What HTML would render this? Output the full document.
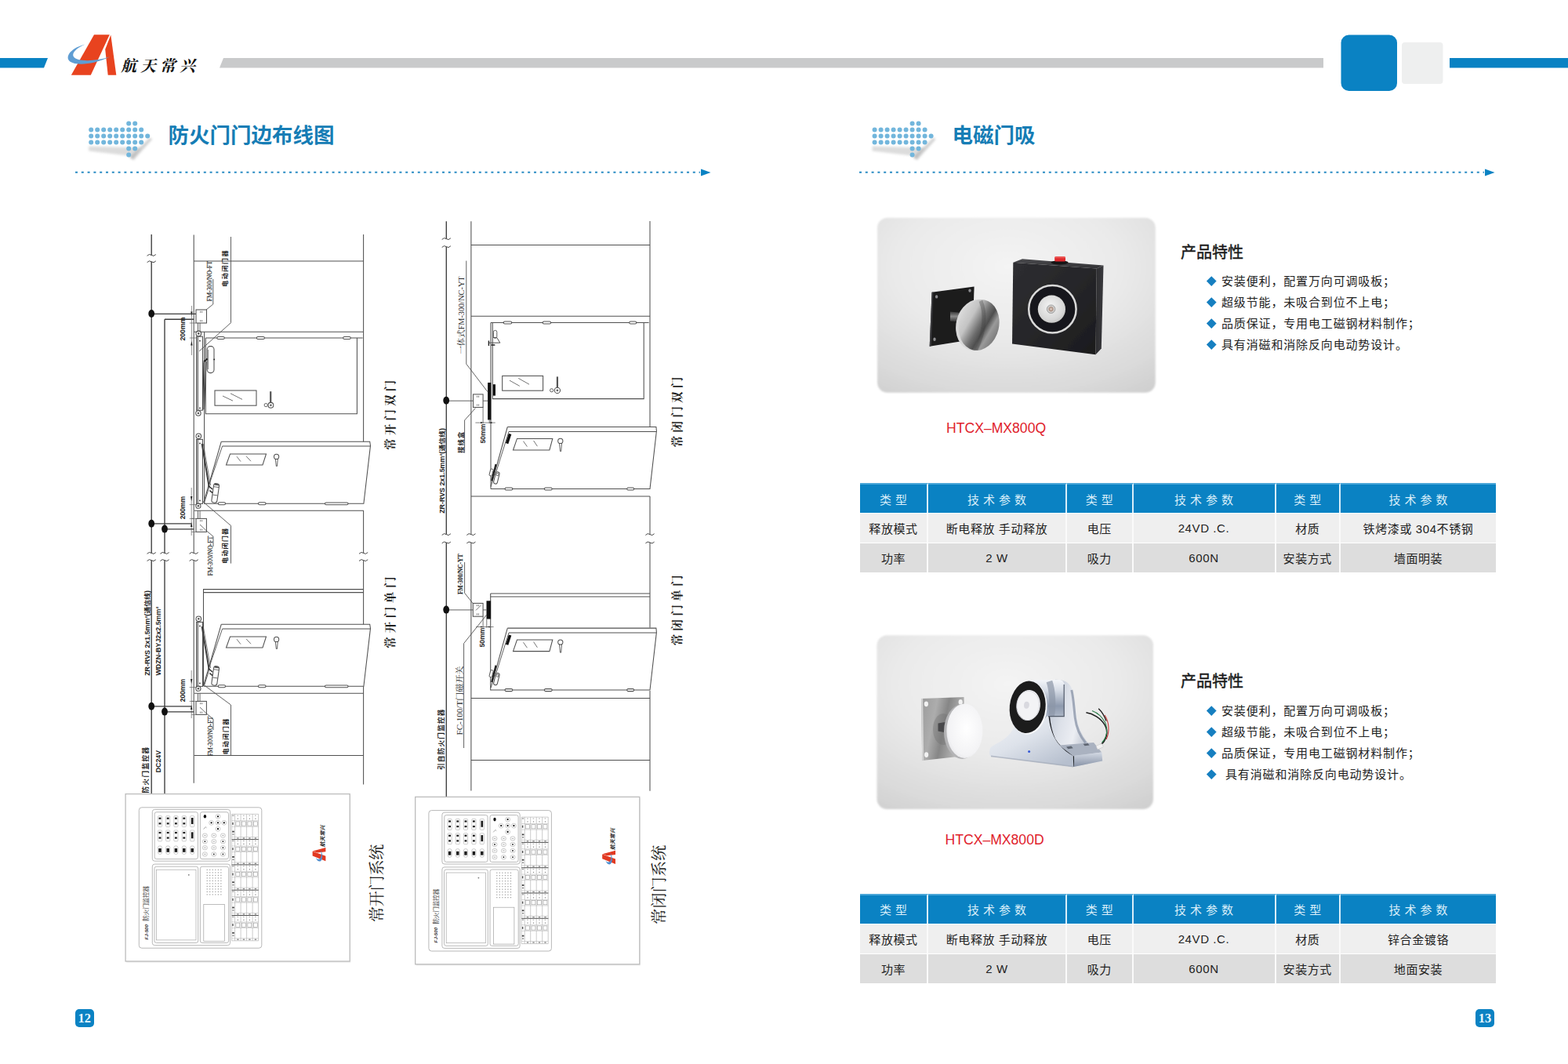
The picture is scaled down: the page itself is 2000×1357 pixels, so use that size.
<!DOCTYPE html>
<html lang="zh">
<head>
<meta charset="utf-8">
<title>航天常兴 - 防火门门边布线图 / 电磁门吸</title>
<style>
html,body{margin:0;padding:0;background:#fff;}
body{width:2000px;height:1357px;position:relative;overflow:hidden;font-family:"Liberation Sans","Noto Sans CJK SC",sans-serif;color:#222;}
.abs{position:absolute;}
#art{position:absolute;left:0;top:0;width:2000px;height:1357px;}
.logo-txt{position:absolute;left:154px;top:70px;font-family:"Liberation Serif","Noto Serif CJK SC",serif;font-style:italic;font-weight:bold;font-size:20px;letter-spacing:5px;color:#111;line-height:28px;white-space:nowrap;}
.h1{position:absolute;top:156px;font-size:26.5px;font-weight:bold;color:#167db5;line-height:34px;white-space:nowrap;letter-spacing:0px;}
.ptitle{position:absolute;font-size:20px;font-weight:normal;-webkit-text-stroke:0.45px #1a1a1a;color:#1a1a1a;line-height:24px;white-space:nowrap;}
.feat{position:absolute;font-size:15px;letter-spacing:0.85px;color:#222;line-height:27px;white-space:nowrap;margin:0;padding:0;list-style:none;}
.feat li{position:relative;height:27px;padding-left:19px;}
.feat li:before{content:"";position:absolute;left:1.5px;top:8.5px;width:8.5px;height:8.5px;background:#167fc0;transform:rotate(45deg);}
.model{position:absolute;font-size:17.6px;color:#e0212b;line-height:20px;white-space:nowrap;}
table.spec{position:absolute;left:1097px;width:811px;border-collapse:separate;border-spacing:0;table-layout:fixed;font-size:15px;letter-spacing:0.6px;color:#222;}
table.spec th{height:38.5px;background:#0a82c3;color:#d9eef9;font-weight:normal;letter-spacing:5px;padding:0 0 0 5px;border-right:2px solid #d9eef9;border-top:2px solid #4aa6d8;box-sizing:border-box;text-align:center;}
table.spec td{height:38px;padding:0;text-align:center;border-right:2px solid #fafafa;border-top:1.5px solid #fff;box-sizing:border-box;}
table.spec tr.r1 td{background:#efefef;}
table.spec tr.r2 td{background:#dddddd;}
table.spec th:last-child,table.spec td:last-child{border-right:none;}
.pn{position:absolute;top:1287px;width:23.6px;height:23px;border-radius:5px;background:#0a82c3;color:#e6f7ff;font-family:"Liberation Serif",serif;font-weight:bold;font-size:16.5px;line-height:23px;text-align:center;}
.vt{position:absolute;white-space:nowrap;transform-origin:0 0;transform:rotate(-90deg);line-height:1;}
</style>
</head>
<body>
<svg id="art" width="2000" height="1357" viewBox="0 0 2000 1357">
<defs>
<radialGradient id="pbg1" cx="0.47" cy="0.28" r="0.9">
<stop offset="0" stop-color="#f4f4f4"/><stop offset="0.45" stop-color="#eaeaea"/><stop offset="0.8" stop-color="#dadada"/><stop offset="1" stop-color="#cdcdcd"/>
</radialGradient>
<filter id="cardsoft" x="-2%" y="-2%" width="104%" height="104%"><feGaussianBlur stdDeviation="0.8"/></filter>
<filter id="blur2" x="-20%" y="-20%" width="140%" height="140%"><feGaussianBlur stdDeviation="1.6"/></filter>
<g id="dotarrow">
<path d="M-3 29 L64 31 L52 46 L47 41 L-3 35 Z" fill="#9a9a9a" opacity="0.34" filter="url(#blur2)"/>
<path d="M75 18 L78 20 L54 47 L50 42 Z" fill="#8a8a8a" opacity="0.38" filter="url(#blur2)"/>
<g fill="#72b6dc">
<circle cx="48" cy="0" r="3"/><circle cx="56" cy="0" r="3"/>
<circle cx="0" cy="8" r="3"/><circle cx="8" cy="8" r="3"/><circle cx="16" cy="8" r="3"/><circle cx="24" cy="8" r="3"/><circle cx="32" cy="8" r="3"/><circle cx="40" cy="8" r="3"/><circle cx="48" cy="8" r="3"/><circle cx="56" cy="8" r="3"/><circle cx="64" cy="8" r="3"/>
<circle cx="0" cy="16" r="3"/><circle cx="8" cy="16" r="3"/><circle cx="16" cy="16" r="3"/><circle cx="24" cy="16" r="3"/><circle cx="32" cy="16" r="3"/><circle cx="40" cy="16" r="3"/><circle cx="48" cy="16" r="3"/><circle cx="56" cy="16" r="3"/><circle cx="64" cy="16" r="3"/><circle cx="72" cy="16" r="3"/>
<circle cx="0" cy="24" r="3"/><circle cx="8" cy="24" r="3"/><circle cx="16" cy="24" r="3"/><circle cx="24" cy="24" r="3"/><circle cx="32" cy="24" r="3"/><circle cx="40" cy="24" r="3"/><circle cx="48" cy="24" r="3"/><circle cx="56" cy="24" r="3"/><circle cx="64" cy="24" r="3"/>
<circle cx="48" cy="32" r="3"/><circle cx="56" cy="32" r="3"/>
<circle cx="48" cy="40" r="3"/>
</g>
</g>
</defs>

<!-- header bars -->
<polygon points="0,74 61,74 56,86.5 0,86.5" fill="#0a82c3"/>
<polygon points="285,74 1688,74 1688,86.5 280,86.5" fill="#c9cacb"/>
<rect x="1849" y="74" width="151" height="12.5" fill="#0a82c3"/>
<rect x="1710.5" y="44.5" width="71.5" height="71.5" rx="10" ry="10" fill="#0a82c3"/>
<rect x="1788" y="54" width="52.5" height="53" rx="4" ry="4" fill="#eeefef"/>

<!-- logo -->
<g id="logo">
<polygon points="120,44.2 139.8,44.2 115.8,95.8 90.8,95.8" fill="#e8431f"/>
<polygon points="141.3,44.4 148.3,95.8 137.7,95.8 134.2,63" fill="#e8431f"/>
<path d="M108.5 56.5 C92 61 84 70 87.5 76.5 C92 84 116 84 140.5 72.3 C120 79 98 78.5 94 72.5 C91 68 97 61.5 108.5 56.5 Z" fill="#5f9dd3"/>
</g>

<!-- section heading icons + dotted rules -->
<use href="#dotarrow" x="116.2" y="157.6"/>
<use href="#dotarrow" x="1115.6" y="157.6"/>
<line x1="96" y1="219.8" x2="893" y2="219.8" stroke="#2a8cc4" stroke-width="2" stroke-dasharray="3 4.8"/>
<polygon points="894,215.6 906.5,220 894,224.4" fill="#0a82c3"/>
<line x1="1096" y1="219.8" x2="1893" y2="219.8" stroke="#2a8cc4" stroke-width="2" stroke-dasharray="3 4.8"/>
<polygon points="1894,215.6 1906.5,220 1894,224.4" fill="#0a82c3"/>

<!-- product photo cards -->
<rect x="1119" y="277.7" width="354.8" height="223" rx="13" ry="13" fill="url(#pbg1)" filter="url(#cardsoft)"/>
<rect x="1118.5" y="810.3" width="352.5" height="221.8" rx="13" ry="13" fill="url(#pbg1)" filter="url(#cardsoft)"/>

<g id="product1">
<defs>
<linearGradient id="p1front" x1="0" y1="0" x2="1" y2="1"><stop offset="0" stop-color="#2e2e31"/><stop offset="0.5" stop-color="#262629"/><stop offset="1" stop-color="#1b1b1d"/></linearGradient>
<linearGradient id="p1top" x1="0" y1="0" x2="0" y2="1"><stop offset="0" stop-color="#4a4a4e"/><stop offset="1" stop-color="#323235"/></linearGradient>
<linearGradient id="p1side" x1="0" y1="0" x2="1" y2="0"><stop offset="0" stop-color="#2c2c2f"/><stop offset="1" stop-color="#3a3a3e"/></linearGradient>
<radialGradient id="p1silver" cx="0.45" cy="0.4" r="0.7"><stop offset="0" stop-color="#f4f4f4"/><stop offset="0.7" stop-color="#d6d6d6"/><stop offset="1" stop-color="#b9b9b9"/></radialGradient>
<radialGradient id="p1pin" cx="0.5" cy="0.5" r="0.5"><stop offset="0" stop-color="#e9d9d0"/><stop offset="0.45" stop-color="#a98f82"/><stop offset="0.75" stop-color="#d8d8d8"/><stop offset="1" stop-color="#a8a8a8"/></radialGradient>
<linearGradient id="p1disc" x1="0" y1="0.2" x2="1" y2="0.6"><stop offset="0" stop-color="#dcdcdc"/><stop offset="0.3" stop-color="#c4c4c4"/><stop offset="0.55" stop-color="#6e6e6e"/><stop offset="0.68" stop-color="#4e4e4e"/><stop offset="0.82" stop-color="#9a9a9a"/><stop offset="1" stop-color="#7c7c7c"/></linearGradient>
<linearGradient id="p1stem" x1="0" y1="0" x2="0" y2="1"><stop offset="0" stop-color="#3a3a3a"/><stop offset="0.45" stop-color="#8a8a8a"/><stop offset="1" stop-color="#2a2a2a"/></linearGradient>
<filter id="p1soft" x="-10%" y="-10%" width="120%" height="120%"><feGaussianBlur stdDeviation="0.7"/></filter>
<filter id="p1shadow" x="-20%" y="-20%" width="140%" height="160%"><feGaussianBlur stdDeviation="3"/></filter>
</defs>
<!-- soft ground shadows -->
<g filter="url(#p1soft)">
<!-- wall plate -->
<polygon points="1188.6,372.7 1242.6,365.4 1240.3,433 1185.7,441.8" fill="#1b1b1d"/>
<polygon points="1188.6,372.7 1190.4,372.5 1187.6,441.5 1185.7,441.8" fill="#3c3c3f"/>
<ellipse cx="1194.6" cy="378.4" rx="1.7" ry="2.2" fill="#8d8d90"/>
<ellipse cx="1237" cy="370.6" rx="1.7" ry="2.2" fill="#8d8d90"/>
<ellipse cx="1192" cy="432.8" rx="1.7" ry="2.2" fill="#8d8d90"/>
<!-- stem -->
<polygon points="1212,397.6 1232,399.6 1232,411 1212,409.4" fill="url(#p1stem)"/>
<!-- armature disc (edge + face) -->
<g transform="rotate(13 1248.4 414.4)">
<ellipse cx="1245.6" cy="415.2" rx="26" ry="33" fill="#d9d9d9"/>
<ellipse cx="1248.6" cy="414.4" rx="25.6" ry="32.8" fill="url(#p1disc)"/>
<path d="M1244 384 C1254 398 1258 420 1252 446" stroke="#3e3e3e" stroke-width="5" fill="none" opacity="0.35"/>
</g>
<!-- magnet housing -->
<polygon points="1292.3,334.8 1304,330.2 1407.5,338.5 1398.8,342.5" fill="url(#p1top)"/>
<polygon points="1398.8,342.5 1407.5,338.5 1404.8,444.6 1397.5,452.3" fill="url(#p1side)"/>
<polygon points="1292.3,334.8 1398.8,342.5 1397.5,452.3 1291,438.6" fill="url(#p1front)"/>
<!-- release button -->
<ellipse cx="1351.6" cy="334.8" rx="11" ry="2.6" fill="#151515"/>
<rect x="1345.2" y="327.2" width="13.8" height="6.4" rx="1.6" fill="#df2a2e"/>
<rect x="1345.2" y="327.2" width="13.8" height="2" rx="1" fill="#f0605c" opacity="0.8"/>
<!-- pole face -->
<circle cx="1342.4" cy="394.2" r="30.4" fill="#18181a"/>
<circle cx="1342.4" cy="394.2" r="30.2" fill="none" stroke="#d9d9d9" stroke-width="2.5"/>
<circle cx="1341.4" cy="394.2" r="17.6" fill="url(#p1silver)"/>
<circle cx="1340.6" cy="394.2" r="5.3" fill="url(#p1pin)"/>
<circle cx="1340.6" cy="394.2" r="5.3" fill="none" stroke="#9a9a9a" stroke-width="0.8"/>
</g>
</g>

<g id="product2">
<defs>
<linearGradient id="p2plate" x1="0" y1="0" x2="1" y2="0.3"><stop offset="0" stop-color="#9a9a9a"/><stop offset="0.35" stop-color="#adadad"/><stop offset="0.6" stop-color="#868686"/><stop offset="1" stop-color="#bdbdbd"/></linearGradient>
<radialGradient id="p2disc" cx="0.55" cy="0.45" r="0.7"><stop offset="0" stop-color="#ffffff"/><stop offset="0.7" stop-color="#f3f3f5"/><stop offset="1" stop-color="#dcdce0"/></radialGradient>
<linearGradient id="p2cyl" x1="0" y1="0" x2="0" y2="1"><stop offset="0" stop-color="#f4f6fa"/><stop offset="0.2" stop-color="#d6dce6"/><stop offset="0.5" stop-color="#8e9aae"/><stop offset="0.78" stop-color="#b8c1cf"/><stop offset="1" stop-color="#dde2ea"/></linearGradient>
<linearGradient id="p2face" x1="0" y1="0" x2="0.8" y2="1"><stop offset="0" stop-color="#f2f4f8"/><stop offset="0.5" stop-color="#dde2ea"/><stop offset="1" stop-color="#b6bfce"/></linearGradient>
<linearGradient id="p2arch" x1="0" y1="0.2" x2="1" y2="0.6"><stop offset="0" stop-color="#bcc4d1"/><stop offset="0.3" stop-color="#dde1e9"/><stop offset="0.55" stop-color="#eceef3"/><stop offset="0.8" stop-color="#b9c0cd"/><stop offset="1" stop-color="#dfe3ea"/></linearGradient>
<linearGradient id="p2base" x1="0" y1="0" x2="0" y2="1"><stop offset="0" stop-color="#d4dae4"/><stop offset="1" stop-color="#8792a6"/></linearGradient>
<filter id="p2soft" x="-10%" y="-10%" width="120%" height="120%"><feGaussianBlur stdDeviation="0.7"/></filter>
<filter id="p2shadow" x="-20%" y="-40%" width="140%" height="200%"><feGaussianBlur stdDeviation="3"/></filter>
</defs>
<g filter="url(#p2soft)">
<!-- wall plate -->
<polygon points="1175.1,891.1 1229.5,889 1231,964 1176.2,970" fill="url(#p2plate)"/>
<polygon points="1175.1,891.1 1177.2,891 1178.2,969.8 1176.2,970" fill="#d4d4d4"/>
<ellipse cx="1181.4" cy="897.8" rx="2.6" ry="3.4" fill="#f2f2f2"/>
<ellipse cx="1225.2" cy="895.4" rx="2.6" ry="3.4" fill="#f2f2f2"/>
<ellipse cx="1181.6" cy="962.6" rx="2.6" ry="3.4" fill="#f2f2f2"/>
<ellipse cx="1203" cy="930" rx="13" ry="20" fill="#6e6e6e" opacity="0.35"/>
<polygon points="1196.5,922.6 1208,920.6 1208,934.8 1196.5,932.6" fill="#4a4a4c"/>
<!-- armature disc -->
<ellipse cx="1227.4" cy="933" rx="23.4" ry="35" fill="#b4b4b6"/>
<ellipse cx="1230.4" cy="932.2" rx="23" ry="34.8" fill="url(#p2disc)"/>
<!-- holder: rear arch -->
<path d="M1346 866.8 C1356 866.6 1362.6 869.6 1366 876 C1370.6 885 1371.6 900 1373.4 914.6 C1375 926 1379 936 1386 945.4 C1392 952.6 1399 957 1405.4 959.6 L1406.2 970.4 L1369.4 978 L1368.6 964 C1356 957 1346.4 946.6 1342 934 C1339.6 927 1338 920 1337.4 912 Z" fill="url(#p2arch)"/>
<path d="M1366.8 880 C1369.6 892 1369.8 904 1371.4 916 C1373 928 1377.4 938.6 1384.6 947.4" fill="none" stroke="#8d97aa" stroke-width="3" opacity="0.8"/>
<path d="M1337.6 914 C1338.4 924 1340.4 933 1344.6 942.6 C1349 950.6 1356 957 1368.4 963.6" fill="none" stroke="#17191d" stroke-width="3"/>
<!-- holder: base right block -->
<path d="M1351 950.6 L1395 947 L1405.2 959.6 L1368.8 964.2 Z" fill="#aab2c0"/>
<path d="M1360 952.6 l6.4 -1 l2.4 2.6 l-6.4 1z M1381.6 948.8 l6 -0.8 l2 2.4 l-6 0.8z" fill="#5f6672"/>
<polygon points="1368.9,964 1405.2,959.5 1406.2,970.4 1369.4,978" fill="url(#p2base)"/>
<path d="M1369.2 964.2 V977.8" stroke="#1f2126" stroke-width="1.6"/>
<!-- holder: front face -->
<path d="M1294.8 924.6 C1291 934 1284 942 1273 947.4 C1267 950.4 1263 952.6 1262.4 956 L1262 960.4 C1262.2 963 1263 964.4 1265 964.8 L1369.4 978 L1368.6 964 C1356 957 1346.4 946.6 1342 934 C1339.6 927 1338 920 1337.4 912 L1322 932 Z" fill="url(#p2face)"/>
<path d="M1264 964.4 L1369.2 977.6" fill="none" stroke="#a8afbd" stroke-width="1.6" opacity="0.8"/>
<circle cx="1312.6" cy="958.6" r="1.5" fill="#3558d6"/>
<!-- holder: magnet cylinder -->
<path d="M1313 867.4 L1351 867 C1355 867 1357.2 869.6 1357.2 873 V913.4 H1335.4 L1320 934 Z" fill="url(#p2cyl)"/>
<path d="M1338.4 869 C1342.4 880 1343.4 900 1341 913" fill="none" stroke="#8c95a6" stroke-width="8" opacity="0.7"/>
<path d="M1357.2 873 V913.6 H1337" fill="none" stroke="#535b6b" stroke-width="1.2"/>
<!-- pole face -->
<g transform="rotate(6 1310.7 901.8)">
<ellipse cx="1312.2" cy="902.8" rx="23.4" ry="33.8" fill="#f7f8fa"/>
<ellipse cx="1310.7" cy="901.8" rx="22.9" ry="33.3" fill="#1d1d1f"/>
<ellipse cx="1311.6" cy="899.2" rx="15" ry="19.4" fill="#f3f3f5"/>
<ellipse cx="1311" cy="899.8" rx="14.4" ry="18.8" fill="none" stroke="#d3d5da" stroke-width="0.9"/>
<ellipse cx="1309.2" cy="899.4" rx="3.4" ry="4.5" fill="#d9d9df"/>
</g>
<!-- pigtail leads -->
<path d="M1385.4 908.8 C1394 910 1404 916 1409.2 924.6 C1414 933 1412 944 1403.4 950.4" fill="none" stroke="#1d1d1d" stroke-width="1.5"/>
<path d="M1393 906.4 C1400 909 1406 914.6 1409.6 921.6 C1413.2 929.6 1412.4 940 1405.6 947" fill="none" stroke="#2e7d4a" stroke-width="1.1"/>
<path d="M1401.2 903.8 C1405.6 908 1409 913.6 1411 919.6" fill="none" stroke="#1d1d1d" stroke-width="1.3"/>
<path d="M1409 912 C1414.4 920 1416 933 1411 943" fill="none" stroke="#c43a3a" stroke-width="1.1"/>
<rect x="1398.6" y="949.6" width="8.2" height="5" rx="1" fill="#f1f1f1" stroke="#c4c4c4" stroke-width="0.5" transform="rotate(-24 1402.6 952)"/>
</g>
</g>

<g id="diagram" fill="none" stroke="#505050" stroke-width="1.05" stroke-linecap="butt" stroke-linejoin="miter">
<defs>
<path id="tl" d="M-5.6 0.9 Q-2.8 -2.4 0 0 Q2.8 2.4 5.6 -0.9" fill="none" stroke="#474747" stroke-width="1"/>
<!-- open door leaf + closer for normally-open system; local origin = page coords of double-door lower leaf -->
<g id="odoorL">
  <!-- leaf outline -->
  <path d="M282.3 563.2 H471.7 L472.5 568.4 L463.9 642.2 H260"/>
  <path d="M283.6 569 H472.3"/>
  <path d="M282.3 563.2 L259.9 640.5"/>
  <path d="M283.6 569 L266.8 618" stroke-width="0.9"/>
  <!-- window -->
  <path d="M293.5 579 H339.5 L335 593 H288.5 Z"/>
  <path d="M302 582.2 L307 588.6 M314 581.8 L320 588.2" stroke-width="0.8"/>
  <!-- handle -->
  <circle cx="352.6" cy="582.4" r="3.1"/>
  <path d="M351.3 585 L352.3 594.5 H353.5 L354.3 585" stroke-width="0.9"/>
  <!-- hinges -->
  <rect x="278.3" y="640.7" width="9.2" height="3" rx="1.5" fill="#fff"/>
  <rect x="329.5" y="640.7" width="9.5" height="3" rx="1.5" fill="#fff"/>
  <rect x="414.5" y="640.9" width="29.5" height="2.8" rx="1.4" fill="#fff"/>
  <!-- slide track -->
  <rect x="250.6" y="560.4" width="7.9" height="82" fill="#fff"/>
  <path d="M252.3 561 V642" stroke="#777" stroke-width="1.6"/>
  <circle cx="253.3" cy="556.2" r="3.3" fill="#fff"/><circle cx="253.3" cy="556.2" r="1.3" fill="#555" stroke="none"/>
  <circle cx="252.9" cy="645.2" r="3.1" fill="#fff"/><circle cx="252.9" cy="645.2" r="1.3" fill="#555" stroke="none"/>
  <circle cx="254.9" cy="565.4" r="0.9" fill="#333" stroke="none"/>
  <circle cx="254.9" cy="638.4" r="0.9" fill="#333" stroke="none"/>
  <!-- folding arm -->
  <path d="M257.6 566 L266.8 621.5" stroke-width="1.9" stroke="#3a3a3a"/>
  <path d="M259.2 566 L268.6 619" stroke-width="0.8"/>
  <path d="M266.8 621.5 L260.6 641" stroke-width="0.9"/>
  <!-- closer body -->
  <g transform="rotate(8 274.6 629)">
    <rect x="271.2" y="616.6" width="7" height="24.6" rx="3" fill="#fff"/>
    <path d="M271.4 621 H278 M271.4 631.5 H278" stroke-width="0.8"/>
    <rect x="271.9" y="616.8" width="5.6" height="2.2" rx="1" fill="#555" stroke="none"/>
  </g>
  <path d="M266.4 620 L271 624 M267.4 625.5 L271 628.6" stroke-width="1.6" stroke="#333"/>
  <!-- junction box + feed -->
  <rect x="250" y="661.4" width="13.4" height="17" fill="#fff"/>
  <path d="M255 669 L263.4 677" stroke-width="0.8"/>
  <path d="M255.6 663.2 v2 M257.6 663.2 v2 M255.6 674.6 v2 M257.6 674.6 v2" stroke-width="0.8"/>
  <path d="M252.5 651.4 V661.4 M255 651.4 V661.4" stroke-width="0.9"/>
  <path d="M244.2 661.4 H250 M244.2 678.4 H250" stroke-width="0.6"/>
  <!-- dimension line 200mm -->
  <path d="M244.2 622 V683" stroke-width="0.7" stroke="#666"/>
  <path d="M243 633 h2.4 l-1.2 6z M243 672 h2.4 l-1.2 -6z" fill="#222" stroke="none"/>
  <path d="M241.6 643.6 H250.6 M241.6 661.4 H247" stroke-width="0.6"/>
  <!-- wires to bus -->
  <path d="M193.2 667.8 H244.2 M210 674.8 H247.2" stroke="#3c3c3c" stroke-width="1.25"/>
  <ellipse cx="193.2" cy="667.8" rx="3.9" ry="5" fill="#111" stroke="none"/>
  <ellipse cx="210" cy="674.6" rx="3.9" ry="5" fill="#111" stroke="none"/>
</g>
<!-- open door leaf for normally-closed system -->
<g id="odoorR">
  <path d="M647.3 544.5 H836.9 L837.4 549.8 L829 623.4 H625.9"/>
  <path d="M649 550.4 H837.2"/>
  <path d="M647.3 544.5 L626.1 620.6"/>
  <path d="M649 550.4 L631.6 606" stroke-width="0.9"/>
  <path d="M659.5 559.4 H704.8 L700.9 574 H654.5 Z"/>
  <path d="M667.5 562.6 L672.4 569.6 M680.6 562 L685.4 569.2" stroke-width="0.8"/>
  <circle cx="714.8" cy="562.4" r="3.1"/>
  <path d="M713.5 565 L714.5 575.6 H715.7 L716.5 565" stroke-width="0.9"/>
  <rect x="644" y="622" width="9.8" height="3" rx="1.5" fill="#fff"/>
  <rect x="694.4" y="622" width="9.8" height="3" rx="1.5" fill="#fff"/>
  <rect x="799.7" y="622" width="9" height="3" rx="1.5" fill="#fff"/>
  <!-- magnet keeper plate on leaf -->
  <path d="M650.6 553.4 L646.6 565.6" stroke="#111" stroke-width="3.6"/>
  <!-- closer on leaf -->
  <g transform="rotate(14 631 604)">
    <rect x="632.2" y="601" width="4.8" height="15.5" rx="2.3" fill="#fff"/>
    <rect x="624.6" y="599.2" width="3.6" height="8.8" rx="1" fill="#fff" stroke-width="0.9"/>
    <path d="M629.6 592 V614" stroke="#222" stroke-width="2.2"/>
    <circle cx="634.6" cy="604.2" r="1.6" stroke-width="0.8"/>
  </g>
</g>
</defs>

<!-- ================= normally-open system (left) ================= -->
<!-- bus lines -->
<path d="M193.2 299 V325.4 M193.2 333.8 V705.4 M193.2 714.6 V1012.6" stroke="#3c3c3c" stroke-width="1.35"/>
<path d="M210 407.2 V705.4 M210 714.6 V1012.6 M210 407.2 H247.2" stroke="#3c3c3c" stroke-width="1.35"/>
<path d="M247.2 299.5 V705.4 M247.2 714.6 V998.8"/>
<path d="M463.6 299 V563.2 M463.6 651.2 V705.4 M463.6 714.6 V796.2 M463.6 875.2 V1000.6"/>
<use href="#tl" x="193.2" y="325.4"/><use href="#tl" x="193.2" y="333.8"/>
<use href="#tl" x="193.2" y="705.4"/><use href="#tl" x="193.2" y="714.6"/>
<use href="#tl" x="210" y="705.4"/><use href="#tl" x="210" y="714.6"/>
<use href="#tl" x="247.2" y="705.4"/><use href="#tl" x="247.2" y="714.6"/>
<use href="#tl" x="463.6" y="705.4"/><use href="#tl" x="463.6" y="714.6"/>
<!-- structure horizontals -->
<path d="M247.2 333 H463.6 M247.2 423.2 H463.6 M248 651.2 H463.9 M259 751.6 H463.6 M259 755.6 H463.6 M248 884.2 H463.6 M247.7 963.4 H463.6"/>
<path d="M260.6 423.2 V642.2 M259.5 751.6 V875.2"/>
<!-- label leader top -->
<!-- closed leaf (top of double door) -->
<path d="M262.3 431 H462.6 M455.4 431 V527.8 H262.3 V431"/>
<rect x="276.8" y="429.5" width="9.5" height="3" rx="1.5" fill="#fff"/>
<rect x="327.4" y="429.5" width="10" height="3" rx="1.5" fill="#fff"/>
<rect x="437.7" y="429.5" width="9.5" height="3" rx="1.5" fill="#fff"/>
<rect x="274" y="498" width="53" height="19.2"/>
<path d="M284 505 L297 511.2 M294 501.8 L309 509.4" stroke-width="0.8"/>
<path d="M345.2 499.2 V514" stroke-width="2.2" stroke="#555"/>
<circle cx="345.4" cy="516.8" r="3.4" fill="#fff"/><circle cx="345.4" cy="516.8" r="1.4" fill="#666" stroke="none"/>
<circle cx="339.2" cy="516.6" r="2.1" stroke-width="0.9"/>
<!-- slide track + closer on closed leaf -->
<rect x="250.6" y="429.2" width="7.9" height="94" fill="#fff"/>
<path d="M252.3 430 V523" stroke="#777" stroke-width="1.6"/>
<circle cx="253.3" cy="425.4" r="3.3" fill="#fff"/><circle cx="253.3" cy="425.4" r="1.3" fill="#555" stroke="none"/>
<circle cx="252.9" cy="527" r="3.2" fill="#fff"/><circle cx="252.9" cy="527" r="1.3" fill="#555" stroke="none"/>
<circle cx="254.9" cy="434.7" r="0.9" fill="#333" stroke="none"/><circle cx="254.9" cy="520.4" r="0.9" fill="#333" stroke="none"/>
<rect x="264.2" y="441.6" width="8.8" height="34" rx="4" fill="#fff"/>
<path d="M265.6 446 V471" stroke-width="0.7"/>
<path d="M260 462 L258.8 522.5 M263 461.2 L260.4 522" stroke-width="1.1" stroke="#333"/>
<path d="M259.8 461.6 L264.6 457.4" stroke-width="2" stroke="#222"/>
<circle cx="273.2" cy="458.4" r="0.9" fill="#222" stroke="none"/>
<path d="M294.5 302 V411.6 L254 448" stroke-width="0.9"/>
<path d="M271.8 356 V388 L262.6 395.4" stroke-width="0.9"/>
<!-- junction box top -->
<rect x="250" y="395" width="13.5" height="17" fill="#fff"/>
<path d="M255.6 396.8 v2 M257.6 396.8 v2 M255.6 408.2 v2 M257.6 408.2 v2" stroke-width="0.8"/>
<path d="M252.5 412 V423.2 M255 412 V423.2" stroke-width="0.9"/>
<path d="M244.4 390 V453" stroke-width="0.7" stroke="#666"/>
<path d="M243.2 397.6 h2.4 l-1.2 5.4z M243.2 440.6 h2.4 l-1.2 -5.6z" fill="#222" stroke="none"/>
<path d="M241.8 412 H250 M241.8 431 H250.6" stroke-width="0.6"/>
<path d="M193.2 400.3 H250" stroke="#3c3c3c" stroke-width="1.25"/>
<ellipse cx="193.2" cy="400" rx="3.9" ry="5" fill="#111" stroke="none"/>
<!-- open leaf (bottom of double door) and the single door copy -->
<use href="#odoorL"/>
<use href="#odoorL" transform="translate(0 233)"/>
<!-- leaders for closer labels -->
<path d="M258.4 639.4 L294.5 670.4 V718.6" stroke-width="0.9"/>
<path d="M263.4 677 L272 684.2 V697" stroke-width="0.9"/>
<path d="M258.4 872.4 L294.5 899 V963.4" stroke-width="0.9"/>
<path d="M263.4 910 L272 917.2 V931" stroke-width="0.9"/>

<!-- ================= normally-closed system (right) ================= -->
<path d="M569.3 282.2 V304.4 M569.3 314.8 V681.6 M569.3 692 V1016.4" stroke="#3c3c3c" stroke-width="1.35"/>
<path d="M600.9 282.2 V681.6 M600.9 692 V1008.6"/>
<path d="M829 282 V544.4 M829 632.9 V681.6 M829 692 V800.6 M829 880.9 V1008.8"/>
<use href="#tl" x="569.3" y="304.6"/><use href="#tl" x="569.3" y="314.6"/>
<use href="#tl" x="569.3" y="681.6"/><use href="#tl" x="569.3" y="692"/>
<use href="#tl" x="600.9" y="681.6"/><use href="#tl" x="600.9" y="692"/>
<use href="#tl" x="829" y="681.6"/><use href="#tl" x="829" y="692"/>
<path d="M600.9 312.4 H829 M600.9 403.2 H829 M600.9 632.9 H829 M625.7 757 H829 M625.7 761 H829 M600.9 890.4 H829 M600.9 969.5 H829"/>
<path d="M626 411.4 V623.4 M625.7 757 V880.4"/>
<!-- closed leaf -->
<path d="M626 411.4 H827.6 M821.2 411.4 V508.6 H628.3 V411.4"/>
<rect x="642.3" y="409.9" width="10.4" height="3" rx="1.5" fill="#fff"/>
<rect x="692.2" y="409.9" width="10.4" height="3" rx="1.5" fill="#fff"/>
<rect x="802.7" y="409.9" width="9" height="3" rx="1.5" fill="#fff"/>
<rect x="640.7" y="479.4" width="51.9" height="18.8"/>
<path d="M650 485.2 L662.8 492.4 M661.2 482.4 L675 490.2" stroke-width="0.8"/>
<path d="M710.9 480.4 V495" stroke-width="2.2" stroke="#555"/>
<circle cx="710.9" cy="497.9" r="3.6" fill="#fff"/><circle cx="710.9" cy="497.9" r="1.4" fill="#666" stroke="none"/>
<circle cx="703.6" cy="497.8" r="2.1" stroke-width="0.9"/>
<!-- closer at hinge corner -->
<rect x="629.4" y="421.4" width="4.4" height="10" rx="2" fill="#fff" stroke-width="0.9"/>
<path d="M623.2 437.2 H637.8 L633.6 430.4 H629" stroke-width="1"/>
<path d="M623.4 434.6 v6.4 M626.4 440 h5" stroke-width="1.4" stroke="#222"/>
<!-- magnet + keeper -->
<rect x="622.1" y="488" width="4.2" height="47.5" fill="#111" stroke="none"/>
<rect x="628.8" y="490.2" width="3.2" height="14.4" fill="#111" stroke="none"/>
<!-- junction box -->
<rect x="603.6" y="502.9" width="12.5" height="16.6" fill="#fff"/>
<path d="M608.6 504.8 v2 M610.6 504.8 v2 M608.6 515.6 v2 M610.6 515.6 v2" stroke-width="0.8"/>
<path d="M569.3 511.2 H603.6 M616.1 511.2 H622.1" stroke-width="0.9"/>
<ellipse cx="569.2" cy="510.8" rx="3.9" ry="5" fill="#111" stroke="none"/>
<path d="M594.8 332.6 V464.2 L621.9 499.6" stroke-width="0.9"/>
<path d="M606.4 520.6 L592.6 536 V577.6" stroke-width="0.9"/>
<path d="M616.1 519.5 V540 M624.2 535.5 V540" stroke-width="0.8"/>
<path d="M606.4 539.1 H631.8" stroke-width="0.7"/>
<path d="M613 538 l3 1.1 l-3 1.1z M627.4 538 l-3 1.1 l3 1.1z" fill="#222" stroke="none"/>
<!-- open leaf + single door copy -->
<use href="#odoorR"/>
<use href="#odoorR" transform="translate(0 256.6)"/>
<!-- single door magnet + box -->
<rect x="620.5" y="766.3" width="5.6" height="23.2" fill="#111" stroke="none"/>
<rect x="603.3" y="769.4" width="12.8" height="16.8" fill="#fff"/>
<path d="M607 778.4 L613.4 772" stroke-width="0.8"/>
<path d="M608.4 771.2 v2 M610.4 771.2 v2 M608.4 782.4 v2 M610.4 782.4 v2" stroke-width="0.8"/>
<path d="M569.3 777.9 H603.3 M616.1 777.9 H620.5" stroke-width="0.9"/>
<ellipse cx="569.2" cy="777.6" rx="3.9" ry="5" fill="#111" stroke="none"/>
<path d="M592.6 717 V756.3 L603.2 769.6" stroke-width="0.9"/>
<path d="M620.8 784 L591.6 820.6 V954" stroke-width="0.9"/>
<path d="M616.1 786.2 V800.6 M620.8 789.5 V800.6" stroke-width="0.8"/>
<path d="M607 799.5 H629.6" stroke-width="0.7"/>
<path d="M613 798.4 l3 1.1 l-3 1.1z M624.6 798.4 l-3 1.1 l3 1.1z" fill="#222" stroke="none"/>
</g>

<!-- diagram labels -->
<g id="dlabels" font-family="Liberation Sans, sans-serif" fill="#1c1c1c" stroke="none">
<g font-family="Liberation Serif, serif" font-size="8.6" fill="#2c2c2c" stroke="#2c2c2c" stroke-width="0.2">
<text transform="translate(269.8 384.4) rotate(-90)" textLength="51.4" lengthAdjust="spacingAndGlyphs">FM-300/NO-FT</text>
<text transform="translate(271 734.6) rotate(-90)" textLength="51" lengthAdjust="spacingAndGlyphs">FM-300/NO-FT</text>
<text transform="translate(270.8 964.6) rotate(-90)" textLength="51" lengthAdjust="spacingAndGlyphs">FM-300/NO-FT</text>
<text transform="translate(590.2 758) rotate(-90)" textLength="51.4" lengthAdjust="spacingAndGlyphs" font-weight="bold" fill="#222">FM-300/NC-YT</text>
</g>
<g font-family="Liberation Serif, serif" font-size="10.4" fill="#262626" stroke="#262626" stroke-width="0.2">
</g>
<g font-size="8" font-weight="bold">
</g>
<g font-size="8.6" font-weight="bold">
<text transform="translate(236.4 434.6) rotate(-90)" textLength="30" lengthAdjust="spacingAndGlyphs">200mm</text>
<text transform="translate(236.4 662.2) rotate(-90)" textLength="29.4" lengthAdjust="spacingAndGlyphs">200mm</text>
<text transform="translate(236.4 895.2) rotate(-90)" textLength="29.4" lengthAdjust="spacingAndGlyphs">200mm</text>
<text transform="translate(618.8 565.4) rotate(-90)" textLength="24.8" lengthAdjust="spacingAndGlyphs">50mm</text>
<text transform="translate(617.8 825.4) rotate(-90)" textLength="24.8" lengthAdjust="spacingAndGlyphs">50mm</text>
</g>
<g font-size="8.4" font-weight="bold">
<text transform="translate(204.8 861.6) rotate(-90)" textLength="88" lengthAdjust="spacingAndGlyphs">WDZN-BYJ2x2.5mm²</text>
<text transform="translate(204.6 985.2) rotate(-90)" textLength="28.2" lengthAdjust="spacingAndGlyphs">DC24V</text>
</g>
<g font-family="Liberation Serif, serif" font-size="14" fill="#222" stroke="#222" stroke-width="0.3">
</g>
<g font-family="Liberation Serif, serif" font-size="19.6" fill="#222" stroke="#222" stroke-width="0.25">
</g>
</g>
<defs><g id="cabinet" fill="none" stroke="#9c9c9c" stroke-width="0.7">
<rect x="161.2" y="1014" width="286" height="213.6" fill="#d9d9d9" stroke="none" opacity="0.55"/>
<rect x="160.1" y="1012.6" width="286.1" height="213.4" fill="#fff" stroke="#bcbcbc" stroke-width="1.3"/>
<rect x="177.3" y="1029.8" width="156.5" height="179.4" rx="3.5" stroke="#b0b0b0" stroke-width="0.9"/>
<rect x="194.3" y="1032.4" width="99.3" height="65.8" rx="3"/>
<rect x="197.2" y="1035.7" width="55.2" height="59.9" rx="2.5"/>
<rect x="255.4" y="1035.7" width="36.1" height="59.9" rx="2.5"/>
<rect x="201.4" y="1040.6" width="5.2" height="14" rx="1.2" stroke="#aaa" stroke-width="0.6"/>
<rect x="202.6" y="1042.6" width="2.8" height="2.2" fill="#1a1a1a" stroke="none"/>
<rect x="202.6" y="1049.2" width="2.8" height="2.2" fill="#1a1a1a" stroke="none"/>
<rect x="201.4" y="1058.9" width="5.2" height="14" rx="1.2" stroke="#aaa" stroke-width="0.6"/>
<rect x="202.6" y="1060.9" width="2.8" height="2.2" fill="#1a1a1a" stroke="none"/>
<rect x="202.6" y="1067.5" width="2.8" height="2.2" fill="#1a1a1a" stroke="none"/>
<rect x="201.4" y="1078.8" width="5.2" height="10.6" rx="2.4" stroke="#aaa" stroke-width="0.6"/>
<rect x="202.3" y="1082.0" width="3.4" height="4.8" fill="#1a1a1a" stroke="none"/>
<rect x="211.6" y="1040.6" width="5.2" height="14" rx="1.2" stroke="#aaa" stroke-width="0.6"/>
<rect x="212.8" y="1042.6" width="2.8" height="2.2" fill="#1a1a1a" stroke="none"/>
<rect x="212.8" y="1049.2" width="2.8" height="2.2" fill="#1a1a1a" stroke="none"/>
<rect x="211.6" y="1058.9" width="5.2" height="14" rx="1.2" stroke="#aaa" stroke-width="0.6"/>
<rect x="212.8" y="1060.9" width="2.8" height="2.2" fill="#1a1a1a" stroke="none"/>
<rect x="212.8" y="1067.5" width="2.8" height="2.2" fill="#1a1a1a" stroke="none"/>
<rect x="211.6" y="1078.8" width="5.2" height="10.6" rx="2.4" stroke="#aaa" stroke-width="0.6"/>
<rect x="212.5" y="1082.0" width="3.4" height="4.8" fill="#1a1a1a" stroke="none"/>
<rect x="221.8" y="1040.6" width="5.2" height="14" rx="1.2" stroke="#aaa" stroke-width="0.6"/>
<rect x="223.0" y="1042.6" width="2.8" height="2.2" fill="#1a1a1a" stroke="none"/>
<rect x="223.0" y="1049.2" width="2.8" height="2.2" fill="#1a1a1a" stroke="none"/>
<rect x="221.8" y="1058.9" width="5.2" height="14" rx="1.2" stroke="#aaa" stroke-width="0.6"/>
<rect x="223.0" y="1060.9" width="2.8" height="2.2" fill="#1a1a1a" stroke="none"/>
<rect x="223.0" y="1067.5" width="2.8" height="2.2" fill="#1a1a1a" stroke="none"/>
<rect x="221.8" y="1078.8" width="5.2" height="10.6" rx="2.4" stroke="#aaa" stroke-width="0.6"/>
<rect x="222.7" y="1082.0" width="3.4" height="4.8" fill="#1a1a1a" stroke="none"/>
<rect x="232.2" y="1040.6" width="5.2" height="14" rx="1.2" stroke="#aaa" stroke-width="0.6"/>
<rect x="233.4" y="1042.6" width="2.8" height="2.2" fill="#1a1a1a" stroke="none"/>
<rect x="233.4" y="1049.2" width="2.8" height="2.2" fill="#1a1a1a" stroke="none"/>
<rect x="232.2" y="1058.9" width="5.2" height="14" rx="1.2" stroke="#aaa" stroke-width="0.6"/>
<rect x="233.4" y="1060.9" width="2.8" height="2.2" fill="#1a1a1a" stroke="none"/>
<rect x="233.4" y="1067.5" width="2.8" height="2.2" fill="#1a1a1a" stroke="none"/>
<rect x="232.2" y="1078.8" width="5.2" height="10.6" rx="2.4" stroke="#aaa" stroke-width="0.6"/>
<rect x="233.1" y="1082.0" width="3.4" height="4.8" fill="#1a1a1a" stroke="none"/>
<rect x="242.6" y="1040.6" width="5.2" height="14" rx="1.2" stroke="#aaa" stroke-width="0.6"/>
<rect x="243.9" y="1043.0" width="2.6" height="8" fill="#1a1a1a" stroke="none"/>
<rect x="242.6" y="1058.9" width="5.2" height="14" rx="1.2" stroke="#aaa" stroke-width="0.6"/>
<rect x="243.9" y="1061.3" width="2.6" height="8" fill="#1a1a1a" stroke="none"/>
<rect x="242.6" y="1078.8" width="5.2" height="10.6" rx="2.4" stroke="#aaa" stroke-width="0.6"/>
<rect x="243.5" y="1082.0" width="3.4" height="4.8" fill="#1a1a1a" stroke="none"/>
<ellipse cx="261.4" cy="1041.3" rx="1.7" ry="2.3" fill="#111" stroke="none"/>
<circle cx="278" cy="1041.3" r="2.9" stroke="#aaa" stroke-width="0.6"/><circle cx="278" cy="1041.3" r="1.15" fill="#111" stroke="none"/>
<circle cx="269.6" cy="1049.3" r="2.9" stroke="#aaa" stroke-width="0.6"/><circle cx="269.6" cy="1049.3" r="1.15" fill="#111" stroke="none"/>
<circle cx="278" cy="1049.3" r="2.9" stroke="#aaa" stroke-width="0.6"/><circle cx="278" cy="1049.3" r="1.15" fill="#111" stroke="none"/>
<circle cx="285.8" cy="1049.3" r="2.9" stroke="#aaa" stroke-width="0.6"/><circle cx="285.8" cy="1049.3" r="1.15" fill="#111" stroke="none"/>
<circle cx="278" cy="1057.2" r="2.9" stroke="#aaa" stroke-width="0.6"/><circle cx="278" cy="1057.2" r="1.15" fill="#111" stroke="none"/>
<path d="M259.6 1057.6 l2.6 -3 l1.4 1.2" stroke="#888" stroke-width="0.7"/>
<rect x="258.5" y="1063.1" width="5.8" height="5" rx="2.2" stroke="#a4a4a4" stroke-width="0.6"/>
<path d="M260.1 1065.6 h2.6" stroke="#777" stroke-width="0.6"/>
<rect x="269.9" y="1063.1" width="5.8" height="5" rx="2.2" stroke="#a4a4a4" stroke-width="0.6"/>
<path d="M271.5 1065.6 h2.6" stroke="#777" stroke-width="0.6"/>
<rect x="281.5" y="1063.1" width="5.8" height="5" rx="2.2" stroke="#a4a4a4" stroke-width="0.6"/>
<path d="M283.1 1065.6 h2.6" stroke="#777" stroke-width="0.6"/>
<rect x="258.5" y="1070.7" width="5.8" height="5" rx="2.2" stroke="#a4a4a4" stroke-width="0.6"/>
<circle cx="261.4" cy="1073.2" r="0.9" fill="#222" stroke="none"/>
<rect x="269.9" y="1070.7" width="5.8" height="5" rx="2.2" stroke="#a4a4a4" stroke-width="0.6"/>
<path d="M271.5 1073.2 h2.6" stroke="#777" stroke-width="0.6"/>
<rect x="281.5" y="1070.7" width="5.8" height="5" rx="2.2" stroke="#a4a4a4" stroke-width="0.6"/>
<circle cx="284.4" cy="1073.2" r="0.9" fill="#222" stroke="none"/>
<rect x="258.5" y="1078.7" width="5.8" height="5" rx="2.2" stroke="#a4a4a4" stroke-width="0.6"/>
<path d="M260.1 1081.2 h2.6" stroke="#777" stroke-width="0.6"/>
<rect x="269.9" y="1078.7" width="5.8" height="5" rx="2.2" stroke="#a4a4a4" stroke-width="0.6"/>
<path d="M271.5 1081.2 h2.6" stroke="#777" stroke-width="0.6"/>
<rect x="281.5" y="1078.7" width="5.8" height="5" rx="2.2" stroke="#a4a4a4" stroke-width="0.6"/>
<circle cx="284.4" cy="1081.2" r="0.9" fill="#222" stroke="none"/>
<rect x="258.5" y="1086.9" width="5.8" height="5" rx="2.2" stroke="#a4a4a4" stroke-width="0.6"/>
<path d="M260.1 1089.4 h2.6" stroke="#777" stroke-width="0.6"/>
<rect x="269.9" y="1086.9" width="5.8" height="5" rx="2.2" stroke="#a4a4a4" stroke-width="0.6"/>
<circle cx="272.8" cy="1089.4" r="0.9" fill="#222" stroke="none"/>
<rect x="281.5" y="1086.9" width="5.8" height="5" rx="2.2" stroke="#a4a4a4" stroke-width="0.6"/>
<circle cx="284.4" cy="1089.4" r="0.9" fill="#222" stroke="none"/>
<rect x="194.3" y="1102.1" width="99.2" height="103.5" rx="3"/>
<rect x="197" y="1105.2" width="55.7" height="97.3" rx="2.5"/>
<rect x="199.6" y="1109.2" width="50.4" height="89.7" stroke="#a8a8a8"/>
<circle cx="240.8" cy="1115.8" r="0.9" fill="#777" stroke="none"/>
<rect x="255.4" y="1105.2" width="36.2" height="97.3" rx="2.5"/>
<rect x="259.8" y="1153.4" width="26.5" height="46.9" stroke="#a0a0a0"/>
<rect x="263.65" y="1108.85" width="1.1" height="1.1" fill="#8a8a8a" stroke="none"/>
<rect x="267.19" y="1108.85" width="1.1" height="1.1" fill="#8a8a8a" stroke="none"/>
<rect x="270.73" y="1108.85" width="1.1" height="1.1" fill="#8a8a8a" stroke="none"/>
<rect x="274.27" y="1108.85" width="1.1" height="1.1" fill="#8a8a8a" stroke="none"/>
<rect x="277.81" y="1108.85" width="1.1" height="1.1" fill="#8a8a8a" stroke="none"/>
<rect x="281.35" y="1108.85" width="1.1" height="1.1" fill="#8a8a8a" stroke="none"/>
<rect x="263.65" y="1112.35" width="1.1" height="1.1" fill="#8a8a8a" stroke="none"/>
<rect x="267.19" y="1112.35" width="1.1" height="1.1" fill="#8a8a8a" stroke="none"/>
<rect x="270.73" y="1112.35" width="1.1" height="1.1" fill="#8a8a8a" stroke="none"/>
<rect x="274.27" y="1112.35" width="1.1" height="1.1" fill="#8a8a8a" stroke="none"/>
<rect x="277.81" y="1112.35" width="1.1" height="1.1" fill="#8a8a8a" stroke="none"/>
<rect x="281.35" y="1112.35" width="1.1" height="1.1" fill="#8a8a8a" stroke="none"/>
<rect x="263.65" y="1115.85" width="1.1" height="1.1" fill="#8a8a8a" stroke="none"/>
<rect x="267.19" y="1115.85" width="1.1" height="1.1" fill="#8a8a8a" stroke="none"/>
<rect x="270.73" y="1115.85" width="1.1" height="1.1" fill="#8a8a8a" stroke="none"/>
<rect x="274.27" y="1115.85" width="1.1" height="1.1" fill="#8a8a8a" stroke="none"/>
<rect x="277.81" y="1115.85" width="1.1" height="1.1" fill="#8a8a8a" stroke="none"/>
<rect x="281.35" y="1115.85" width="1.1" height="1.1" fill="#8a8a8a" stroke="none"/>
<rect x="263.65" y="1119.35" width="1.1" height="1.1" fill="#8a8a8a" stroke="none"/>
<rect x="267.19" y="1119.35" width="1.1" height="1.1" fill="#8a8a8a" stroke="none"/>
<rect x="270.73" y="1119.35" width="1.1" height="1.1" fill="#8a8a8a" stroke="none"/>
<rect x="274.27" y="1119.35" width="1.1" height="1.1" fill="#8a8a8a" stroke="none"/>
<rect x="277.81" y="1119.35" width="1.1" height="1.1" fill="#8a8a8a" stroke="none"/>
<rect x="281.35" y="1119.35" width="1.1" height="1.1" fill="#8a8a8a" stroke="none"/>
<rect x="263.65" y="1122.85" width="1.1" height="1.1" fill="#8a8a8a" stroke="none"/>
<rect x="267.19" y="1122.85" width="1.1" height="1.1" fill="#8a8a8a" stroke="none"/>
<rect x="270.73" y="1122.85" width="1.1" height="1.1" fill="#8a8a8a" stroke="none"/>
<rect x="274.27" y="1122.85" width="1.1" height="1.1" fill="#8a8a8a" stroke="none"/>
<rect x="277.81" y="1122.85" width="1.1" height="1.1" fill="#8a8a8a" stroke="none"/>
<rect x="281.35" y="1122.85" width="1.1" height="1.1" fill="#8a8a8a" stroke="none"/>
<rect x="263.65" y="1126.35" width="1.1" height="1.1" fill="#8a8a8a" stroke="none"/>
<rect x="267.19" y="1126.35" width="1.1" height="1.1" fill="#8a8a8a" stroke="none"/>
<rect x="270.73" y="1126.35" width="1.1" height="1.1" fill="#8a8a8a" stroke="none"/>
<rect x="274.27" y="1126.35" width="1.1" height="1.1" fill="#8a8a8a" stroke="none"/>
<rect x="277.81" y="1126.35" width="1.1" height="1.1" fill="#8a8a8a" stroke="none"/>
<rect x="281.35" y="1126.35" width="1.1" height="1.1" fill="#8a8a8a" stroke="none"/>
<rect x="263.65" y="1129.85" width="1.1" height="1.1" fill="#8a8a8a" stroke="none"/>
<rect x="267.19" y="1129.85" width="1.1" height="1.1" fill="#8a8a8a" stroke="none"/>
<rect x="270.73" y="1129.85" width="1.1" height="1.1" fill="#8a8a8a" stroke="none"/>
<rect x="274.27" y="1129.85" width="1.1" height="1.1" fill="#8a8a8a" stroke="none"/>
<rect x="277.81" y="1129.85" width="1.1" height="1.1" fill="#8a8a8a" stroke="none"/>
<rect x="281.35" y="1129.85" width="1.1" height="1.1" fill="#8a8a8a" stroke="none"/>
<rect x="263.65" y="1133.35" width="1.1" height="1.1" fill="#8a8a8a" stroke="none"/>
<rect x="267.19" y="1133.35" width="1.1" height="1.1" fill="#8a8a8a" stroke="none"/>
<rect x="270.73" y="1133.35" width="1.1" height="1.1" fill="#8a8a8a" stroke="none"/>
<rect x="274.27" y="1133.35" width="1.1" height="1.1" fill="#8a8a8a" stroke="none"/>
<rect x="277.81" y="1133.35" width="1.1" height="1.1" fill="#8a8a8a" stroke="none"/>
<rect x="281.35" y="1133.35" width="1.1" height="1.1" fill="#8a8a8a" stroke="none"/>
<rect x="263.65" y="1136.85" width="1.1" height="1.1" fill="#8a8a8a" stroke="none"/>
<rect x="267.19" y="1136.85" width="1.1" height="1.1" fill="#8a8a8a" stroke="none"/>
<rect x="270.73" y="1136.85" width="1.1" height="1.1" fill="#8a8a8a" stroke="none"/>
<rect x="274.27" y="1136.85" width="1.1" height="1.1" fill="#8a8a8a" stroke="none"/>
<rect x="277.81" y="1136.85" width="1.1" height="1.1" fill="#8a8a8a" stroke="none"/>
<rect x="281.35" y="1136.85" width="1.1" height="1.1" fill="#8a8a8a" stroke="none"/>
<rect x="263.65" y="1140.35" width="1.1" height="1.1" fill="#8a8a8a" stroke="none"/>
<rect x="267.19" y="1140.35" width="1.1" height="1.1" fill="#8a8a8a" stroke="none"/>
<rect x="270.73" y="1140.35" width="1.1" height="1.1" fill="#8a8a8a" stroke="none"/>
<rect x="274.27" y="1140.35" width="1.1" height="1.1" fill="#8a8a8a" stroke="none"/>
<rect x="277.81" y="1140.35" width="1.1" height="1.1" fill="#8a8a8a" stroke="none"/>
<rect x="281.35" y="1140.35" width="1.1" height="1.1" fill="#8a8a8a" stroke="none"/>
<path d="M295.6 1038.3 V1199.8 M299.6 1038.3 V1199.8 M307.1 1038.3 V1199.8 M314.6 1038.3 V1199.8 M322.1 1038.3 V1199.8 M329.6 1038.3 V1199.8" stroke="#a8a8a8" stroke-width="0.6"/>
<path d="M295.6 1038.3 H329.6 M295.6 1199.8 H329.6" stroke="#aaa" stroke-width="0.6"/>
<path d="M295.6 1046.7 H329.6 M295.6 1054.3 H329.6 M295.6 1067.5 H329.6" stroke="#b0b0b0" stroke-width="0.5"/>
<rect x="300.9" y="1047.9" width="4.9" height="5.2" stroke="#999" stroke-width="0.6"/>
<rect x="302.8" y="1043.5" width="1.2" height="1.2" fill="#888" stroke="none"/>
<rect x="302.2" y="1068.3" width="2.4" height="1.4" fill="#8a8a8a" stroke="none"/>
<rect x="302.5" y="1039.7" width="1.6" height="1" fill="#aaa" stroke="none"/>
<rect x="308.4" y="1047.9" width="4.9" height="5.2" stroke="#999" stroke-width="0.6"/>
<rect x="310.3" y="1043.5" width="1.2" height="1.2" fill="#888" stroke="none"/>
<rect x="309.7" y="1068.3" width="2.4" height="1.4" fill="#8a8a8a" stroke="none"/>
<rect x="310.0" y="1039.7" width="1.6" height="1" fill="#aaa" stroke="none"/>
<rect x="315.9" y="1047.9" width="4.9" height="5.2" stroke="#999" stroke-width="0.6"/>
<rect x="317.8" y="1043.5" width="1.2" height="1.2" fill="#888" stroke="none"/>
<rect x="317.2" y="1068.3" width="2.4" height="1.4" fill="#8a8a8a" stroke="none"/>
<rect x="317.5" y="1039.7" width="1.6" height="1" fill="#aaa" stroke="none"/>
<rect x="323.4" y="1047.9" width="4.9" height="5.2" stroke="#999" stroke-width="0.6"/>
<rect x="325.3" y="1043.5" width="1.2" height="1.2" fill="#888" stroke="none"/>
<rect x="324.7" y="1068.3" width="2.4" height="1.4" fill="#8a8a8a" stroke="none"/>
<rect x="325.0" y="1039.7" width="1.6" height="1" fill="#aaa" stroke="none"/>
<rect x="296.3" y="1048.9" width="1.4" height="3" fill="#555" stroke="none"/>
<rect x="296.2" y="1059.7" width="2.6" height="1.8" fill="#444" stroke="none"/>
<rect x="296.4" y="1063.5" width="2.2" height="1.2" fill="#777" stroke="none"/>
<rect x="296.2" y="1039.5" width="2.4" height="1.2" fill="#999" stroke="none"/>
<path d="M295.6 1070.6 H329.8" stroke="#555" stroke-width="1"/>
<path d="M295.6 1079.0 H329.6 M295.6 1086.6 H329.6 M295.6 1099.8 H329.6" stroke="#b0b0b0" stroke-width="0.5"/>
<rect x="300.9" y="1080.2" width="4.9" height="5.2" stroke="#999" stroke-width="0.6"/>
<rect x="302.8" y="1075.8" width="1.2" height="1.2" fill="#888" stroke="none"/>
<rect x="302.2" y="1100.6" width="2.4" height="1.4" fill="#8a8a8a" stroke="none"/>
<rect x="302.5" y="1072.0" width="1.6" height="1" fill="#aaa" stroke="none"/>
<rect x="308.4" y="1080.2" width="4.9" height="5.2" stroke="#999" stroke-width="0.6"/>
<rect x="310.3" y="1075.8" width="1.2" height="1.2" fill="#888" stroke="none"/>
<rect x="309.7" y="1100.6" width="2.4" height="1.4" fill="#8a8a8a" stroke="none"/>
<rect x="310.0" y="1072.0" width="1.6" height="1" fill="#aaa" stroke="none"/>
<rect x="315.9" y="1080.2" width="4.9" height="5.2" stroke="#999" stroke-width="0.6"/>
<rect x="317.8" y="1075.8" width="1.2" height="1.2" fill="#888" stroke="none"/>
<rect x="317.2" y="1100.6" width="2.4" height="1.4" fill="#8a8a8a" stroke="none"/>
<rect x="317.5" y="1072.0" width="1.6" height="1" fill="#aaa" stroke="none"/>
<rect x="323.4" y="1080.2" width="4.9" height="5.2" stroke="#999" stroke-width="0.6"/>
<rect x="325.3" y="1075.8" width="1.2" height="1.2" fill="#888" stroke="none"/>
<rect x="324.7" y="1100.6" width="2.4" height="1.4" fill="#8a8a8a" stroke="none"/>
<rect x="325.0" y="1072.0" width="1.6" height="1" fill="#aaa" stroke="none"/>
<rect x="296.3" y="1081.2" width="1.4" height="3" fill="#555" stroke="none"/>
<rect x="296.2" y="1092.0" width="2.6" height="1.8" fill="#444" stroke="none"/>
<rect x="296.4" y="1095.8" width="2.2" height="1.2" fill="#777" stroke="none"/>
<rect x="296.2" y="1071.8" width="2.4" height="1.2" fill="#999" stroke="none"/>
<path d="M295.6 1102.9 H329.8" stroke="#555" stroke-width="1"/>
<path d="M295.6 1111.3 H329.6 M295.6 1118.9 H329.6 M295.6 1132.1 H329.6" stroke="#b0b0b0" stroke-width="0.5"/>
<rect x="300.9" y="1112.5" width="4.9" height="5.2" stroke="#999" stroke-width="0.6"/>
<rect x="302.8" y="1108.1" width="1.2" height="1.2" fill="#888" stroke="none"/>
<rect x="302.2" y="1132.9" width="2.4" height="1.4" fill="#8a8a8a" stroke="none"/>
<rect x="302.5" y="1104.3" width="1.6" height="1" fill="#aaa" stroke="none"/>
<rect x="308.4" y="1112.5" width="4.9" height="5.2" stroke="#999" stroke-width="0.6"/>
<rect x="310.3" y="1108.1" width="1.2" height="1.2" fill="#888" stroke="none"/>
<rect x="309.7" y="1132.9" width="2.4" height="1.4" fill="#8a8a8a" stroke="none"/>
<rect x="310.0" y="1104.3" width="1.6" height="1" fill="#aaa" stroke="none"/>
<rect x="315.9" y="1112.5" width="4.9" height="5.2" stroke="#999" stroke-width="0.6"/>
<rect x="317.8" y="1108.1" width="1.2" height="1.2" fill="#888" stroke="none"/>
<rect x="317.2" y="1132.9" width="2.4" height="1.4" fill="#8a8a8a" stroke="none"/>
<rect x="317.5" y="1104.3" width="1.6" height="1" fill="#aaa" stroke="none"/>
<rect x="323.4" y="1112.5" width="4.9" height="5.2" stroke="#999" stroke-width="0.6"/>
<rect x="325.3" y="1108.1" width="1.2" height="1.2" fill="#888" stroke="none"/>
<rect x="324.7" y="1132.9" width="2.4" height="1.4" fill="#8a8a8a" stroke="none"/>
<rect x="325.0" y="1104.3" width="1.6" height="1" fill="#aaa" stroke="none"/>
<rect x="296.3" y="1113.5" width="1.4" height="3" fill="#555" stroke="none"/>
<rect x="296.2" y="1124.3" width="2.6" height="1.8" fill="#444" stroke="none"/>
<rect x="296.4" y="1128.1" width="2.2" height="1.2" fill="#777" stroke="none"/>
<rect x="296.2" y="1104.1" width="2.4" height="1.2" fill="#999" stroke="none"/>
<path d="M295.6 1135.2 H329.8" stroke="#555" stroke-width="1"/>
<path d="M295.6 1143.6 H329.6 M295.6 1151.2 H329.6 M295.6 1164.4 H329.6" stroke="#b0b0b0" stroke-width="0.5"/>
<rect x="300.9" y="1144.8" width="4.9" height="5.2" stroke="#999" stroke-width="0.6"/>
<rect x="302.8" y="1140.4" width="1.2" height="1.2" fill="#888" stroke="none"/>
<rect x="302.2" y="1165.2" width="2.4" height="1.4" fill="#8a8a8a" stroke="none"/>
<rect x="302.5" y="1136.6" width="1.6" height="1" fill="#aaa" stroke="none"/>
<rect x="308.4" y="1144.8" width="4.9" height="5.2" stroke="#999" stroke-width="0.6"/>
<rect x="310.3" y="1140.4" width="1.2" height="1.2" fill="#888" stroke="none"/>
<rect x="309.7" y="1165.2" width="2.4" height="1.4" fill="#8a8a8a" stroke="none"/>
<rect x="310.0" y="1136.6" width="1.6" height="1" fill="#aaa" stroke="none"/>
<rect x="315.9" y="1144.8" width="4.9" height="5.2" stroke="#999" stroke-width="0.6"/>
<rect x="317.8" y="1140.4" width="1.2" height="1.2" fill="#888" stroke="none"/>
<rect x="317.2" y="1165.2" width="2.4" height="1.4" fill="#8a8a8a" stroke="none"/>
<rect x="317.5" y="1136.6" width="1.6" height="1" fill="#aaa" stroke="none"/>
<rect x="323.4" y="1144.8" width="4.9" height="5.2" stroke="#999" stroke-width="0.6"/>
<rect x="325.3" y="1140.4" width="1.2" height="1.2" fill="#888" stroke="none"/>
<rect x="324.7" y="1165.2" width="2.4" height="1.4" fill="#8a8a8a" stroke="none"/>
<rect x="325.0" y="1136.6" width="1.6" height="1" fill="#aaa" stroke="none"/>
<rect x="296.3" y="1145.8" width="1.4" height="3" fill="#555" stroke="none"/>
<rect x="296.2" y="1156.6" width="2.6" height="1.8" fill="#444" stroke="none"/>
<rect x="296.4" y="1160.4" width="2.2" height="1.2" fill="#777" stroke="none"/>
<rect x="296.2" y="1136.4" width="2.4" height="1.2" fill="#999" stroke="none"/>
<path d="M295.6 1167.5 H329.8" stroke="#555" stroke-width="1"/>
<path d="M295.6 1175.9 H329.6 M295.6 1183.5 H329.6 M295.6 1196.7 H329.6" stroke="#b0b0b0" stroke-width="0.5"/>
<rect x="300.9" y="1177.1" width="4.9" height="5.2" stroke="#999" stroke-width="0.6"/>
<rect x="302.8" y="1172.7" width="1.2" height="1.2" fill="#888" stroke="none"/>
<rect x="302.2" y="1197.5" width="2.4" height="1.4" fill="#8a8a8a" stroke="none"/>
<rect x="302.5" y="1168.9" width="1.6" height="1" fill="#aaa" stroke="none"/>
<rect x="308.4" y="1177.1" width="4.9" height="5.2" stroke="#999" stroke-width="0.6"/>
<rect x="310.3" y="1172.7" width="1.2" height="1.2" fill="#888" stroke="none"/>
<rect x="309.7" y="1197.5" width="2.4" height="1.4" fill="#8a8a8a" stroke="none"/>
<rect x="310.0" y="1168.9" width="1.6" height="1" fill="#aaa" stroke="none"/>
<rect x="315.9" y="1177.1" width="4.9" height="5.2" stroke="#999" stroke-width="0.6"/>
<rect x="317.8" y="1172.7" width="1.2" height="1.2" fill="#888" stroke="none"/>
<rect x="317.2" y="1197.5" width="2.4" height="1.4" fill="#8a8a8a" stroke="none"/>
<rect x="317.5" y="1168.9" width="1.6" height="1" fill="#aaa" stroke="none"/>
<rect x="323.4" y="1177.1" width="4.9" height="5.2" stroke="#999" stroke-width="0.6"/>
<rect x="325.3" y="1172.7" width="1.2" height="1.2" fill="#888" stroke="none"/>
<rect x="324.7" y="1197.5" width="2.4" height="1.4" fill="#8a8a8a" stroke="none"/>
<rect x="325.0" y="1168.9" width="1.6" height="1" fill="#aaa" stroke="none"/>
<rect x="296.3" y="1178.1" width="1.4" height="3" fill="#555" stroke="none"/>
<rect x="296.2" y="1188.9" width="2.6" height="1.8" fill="#444" stroke="none"/>
<rect x="296.4" y="1192.7" width="2.2" height="1.2" fill="#777" stroke="none"/>
<rect x="296.2" y="1168.7" width="2.4" height="1.2" fill="#999" stroke="none"/>
<g transform="translate(398.6 1098.4) rotate(-90)" stroke="none">
<polygon points="7,0 12.6,0 6.6,16.8 0.2,16.8" fill="#e23a22"/><polygon points="13,0.2 17.4,16.8 12.2,16.8 11,6.2" fill="#e23a22"/>
<path d="M5 4 C-1.5 6.5 -2 11 4 12.4 C8 13 12 12 14.4 10 C10 12 4 11.6 3 9 C2 7 3 5.4 5 4Z" fill="#4f8fd0"/>
</g>
</g></defs>
<use href="#cabinet"/>
<use href="#cabinet" transform="translate(369.6 3.8)"/>
<g font-family="Liberation Sans, sans-serif" fill="#3c3c3c" stroke="none">
<text transform="translate(188.6 1198.6) rotate(-90)" font-size="5.6" font-style="italic" font-weight="bold" textLength="19.6" lengthAdjust="spacingAndGlyphs">FJ-500</text>
<text transform="translate(558.2 1202.4) rotate(-90)" font-size="5.6" font-style="italic" font-weight="bold" textLength="19.6" lengthAdjust="spacingAndGlyphs">FJ-500</text>
</g>

</svg>

<div class="logo-txt">航天常兴</div>
<div class="h1" style="left:214.5px;">防火门门边布线图</div>
<div class="h1" style="left:1214.5px;">电磁门吸</div>

<div class="ptitle" style="left:1506px;top:309.5px;">产品特性</div>
<ul class="feat" style="left:1539px;top:345px;">
<li>安装便利，配置万向可调吸板；</li>
<li>超级节能，未吸合到位不上电；</li>
<li>品质保证，专用电工磁钢材料制作；</li>
<li>具有消磁和消除反向电动势设计。</li>
</ul>
<div class="model" style="left:1207px;top:536px;">HTCX–MX800Q</div>

<table class="spec" style="top:615.8px;">
<colgroup><col style="width:87px"><col style="width:177px"><col style="width:84.5px"><col style="width:182px"><col style="width:82.5px"><col style="width:198px"></colgroup>
<tr><th>类型</th><th>技术参数</th><th>类型</th><th>技术参数</th><th>类型</th><th>技术参数</th></tr>
<tr class="r1"><td class="z">释放模式</td><td class="z">断电释放 手动释放</td><td class="z">电压</td><td>24VD .C.</td><td class="z">材质</td><td class="z">铁烤漆或 304不锈钢</td></tr>
<tr class="r2"><td class="z">功率</td><td>2 W</td><td class="z">吸力</td><td>600N</td><td class="z">安装方式</td><td class="z">墙面明装</td></tr>
</table>

<div class="ptitle" style="left:1506px;top:857px;">产品特性</div>
<ul class="feat" style="left:1539px;top:893px;">
<li>安装便利，配置万向可调吸板；</li>
<li>超级节能，未吸合到位不上电；</li>
<li>品质保证，专用电工磁钢材料制作；</li>
<li>&nbsp;具有消磁和消除反向电动势设计。</li>
</ul>
<div class="model" style="left:1205.5px;top:1061px;">HTCX–MX800D</div>

<table class="spec" style="top:1139.7px;">
<colgroup><col style="width:87px"><col style="width:177px"><col style="width:84.5px"><col style="width:182px"><col style="width:82.5px"><col style="width:198px"></colgroup>
<tr><th>类型</th><th>技术参数</th><th>类型</th><th>技术参数</th><th>类型</th><th>技术参数</th></tr>
<tr class="r1"><td class="z">释放模式</td><td class="z">断电释放 手动释放</td><td class="z">电压</td><td>24VD .C.</td><td class="z">材质</td><td class="z">锌合金镀铬</td></tr>
<tr class="r2"><td class="z">功率</td><td>2 W</td><td class="z">吸力</td><td>600N</td><td class="z">安装方式</td><td class="z">地面安装</td></tr>
</table>

<div class="pn" style="left:96px;">12</div>
<div class="pn" style="left:1882.3px;">13</div>
<svg id="txt" width="2000" height="1357" viewBox="0 0 2000 1357" style="position:absolute;left:0;top:0;pointer-events:none">
<g font-family="'Liberation Sans','Noto Sans CJK SC',sans-serif" font-weight="bold" fill="#1c1c1c">
<text transform="translate(290.45 365.91) rotate(-90)" font-size="8.2" textLength="46.5" lengthAdjust="spacing">电动闭门器</text>
<text transform="translate(290.45 718.91) rotate(-90)" font-size="8.2" textLength="45" lengthAdjust="spacing">电动闭门器</text>
<text transform="translate(290.55 962.61) rotate(-90)" font-size="8.2" textLength="46.2" lengthAdjust="spacing">电动闭门器</text>
<text transform="translate(590.6 577.77) rotate(-90)" font-size="8.2" textLength="26.9" lengthAdjust="spacing">接线盒</text>
<text transform="translate(189.1 1011.42) rotate(-90)" font-size="8.6" textLength="58.5" lengthAdjust="spacing">防火门监控器</text>
<text transform="translate(566.35 981.94) rotate(-90)" font-size="8.6" textLength="77.4" lengthAdjust="spacing">引自防火门监控器</text>
<text transform="translate(191.05 861.86) rotate(-90)" font-size="8.3" textLength="108.7" lengthAdjust="spacingAndGlyphs">ZR-RVS 2x1.5mm²(通信线)</text>
<text transform="translate(567.25 654.86) rotate(-90)" font-size="8.3" textLength="108.7" lengthAdjust="spacingAndGlyphs">ZR-RVS 2x1.5mm²(通信线)</text>
</g>
<g font-family="'Liberation Serif','Noto Serif CJK SC',serif" font-size="10.2" fill="#262626">
<text transform="translate(592.22 451.45) rotate(-90)" textLength="99.1" lengthAdjust="spacingAndGlyphs">一体式FM-300/NC-YT</text>
<text transform="translate(589.87 937.52) rotate(-90)" textLength="88.1" lengthAdjust="spacingAndGlyphs">FC-100/T门磁开关</text>
</g>
<g font-family="'Liberation Serif','Noto Serif CJK SC',serif" font-size="14.6" font-weight="bold" fill="#1e1e1e">
<text transform="translate(503.46 573.77) rotate(-90)" textLength="88.9" lengthAdjust="spacing">常开门双门</text>
<text transform="translate(503.46 826.77) rotate(-90)" textLength="91.3" lengthAdjust="spacing">常开门单门</text>
<text transform="translate(868.81 570.17) rotate(-90)" textLength="89.6" lengthAdjust="spacing">常闭门双门</text>
<text transform="translate(868.56 823.37) rotate(-90)" textLength="90" lengthAdjust="spacing">常闭门单门</text>
</g>
<g font-family="'Liberation Serif','Noto Serif CJK SC',serif" font-size="20" fill="#222">
<text transform="translate(488.3 1175.99) rotate(-90)" textLength="99.3" lengthAdjust="spacing">常开门系统</text>
<text transform="translate(848.3 1178.79) rotate(-90)" textLength="101.1" lengthAdjust="spacing">常闭门系统</text>
</g>
<g font-family="'Liberation Sans','Noto Sans CJK SC',sans-serif" font-size="7.6" fill="#3c3c3c">
<text transform="translate(188.94 1174.82) rotate(-90)" textLength="45" lengthAdjust="spacing">防火门监控器</text>
<text transform="translate(558.54 1178.62) rotate(-90)" textLength="45" lengthAdjust="spacing">防火门监控器</text>
</g>
<g font-family="'Liberation Sans','Noto Sans CJK SC',sans-serif" font-size="6.8" font-weight="bold" fill="#222">
<text transform="translate(414.15 1080.16) rotate(-90) skewX(-12)" textLength="27.8" lengthAdjust="spacing">航天常兴</text>
<text transform="translate(783.75 1083.96) rotate(-90) skewX(-12)" textLength="27.8" lengthAdjust="spacing">航天常兴</text>
</g>
</svg>

</body>
</html>
